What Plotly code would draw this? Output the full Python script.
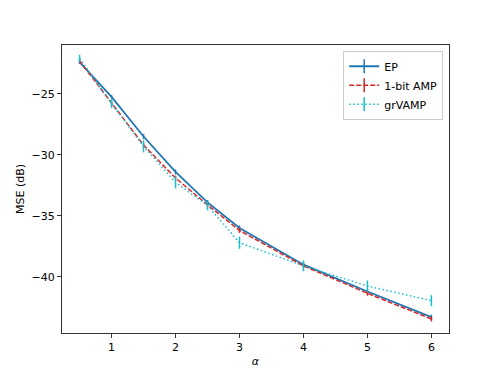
import plotly.graph_objects as go

alpha = [0.5, 1, 1.5, 2, 2.5, 3, 4, 5, 6]

ep_mse = [-22.4, -25.25, -28.5, -31.4, -33.9, -36.0, -39.0, -41.2, -43.3]
ep_err = [0.15, 0.15, 0.2, 0.2, 0.2, 0.2, 0.2, 0.2, 0.2]

amp_mse = [-22.3, -25.8, -29.2, -31.9, -34.1, -36.2, -39.1, -41.35, -43.45]
amp_err = [0.15, 0.2, 0.2, 0.2, 0.2, 0.2, 0.2, 0.2, 0.2]

vamp_mse = [-22.1, -25.8, -29.3, -32.25, -34.15, -37.2, -39.1, -40.75, -41.95]
vamp_err = [0.3, 0.35, 0.5, 0.5, 0.4, 0.5, 0.45, 0.45, 0.45]

names = ["EP", "1-bit AMP", "grVAMP"]
colors = ["#1f77b4", "#d62728", "#17becf"]
dashes = ["solid", "5px,2px", "1.5px,2.5px"]
widths = [1.8, 1.5, 1.5]

fig = go.Figure()
for y, e, name, c, d, w in zip([ep_mse, amp_mse, vamp_mse], [ep_err, amp_err, vamp_err],
                               names, colors, dashes, widths):
    fig.add_trace(go.Scatter(
        x=alpha, y=y, mode="lines", showlegend=False,
        line=dict(color=c, dash=d, width=w),
        error_y=dict(type="data", array=e, color=c, thickness=1.5, width=0),
    ))
    # legend entry with a vertical tick like an errorbar
    fig.add_trace(go.Scatter(
        x=[None], y=[None], mode="lines+markers", name=name,
        line=dict(color=c, dash=d, width=w),
        marker=dict(symbol="line-ns", size=10, line=dict(color=c, width=1.5)),
    ))

axis_style = dict(showline=True, linecolor="#333", linewidth=1, mirror=True,
                  ticks="outside", ticklen=4, tickcolor="#333", showgrid=False,
                  zeroline=False, automargin=False,
                  tickfont=dict(size=11, color="black"))

fig.update_xaxes(range=[0.225, 6.275], tickvals=[1, 2, 3, 4, 5, 6],
                 title=dict(text="<i>α</i>", standoff=4, font=dict(size=11)), **axis_style)
fig.update_yaxes(range=[-44.6, -21.0], tickvals=[-25, -30, -35, -40],
                 title=dict(text="MSE (dB)", standoff=4, font=dict(size=11)), **axis_style)

# the page body adds an 8px offset, margins compensate for it
fig.update_layout(
    width=498, height=374,
    margin=dict(l=54, r=57, t=37, b=49),
    plot_bgcolor="white", paper_bgcolor="white",
    font=dict(family="DejaVu Sans", size=11, color="black"),
    legend=dict(x=0.985, y=0.98, xanchor="right", yanchor="top",
                bordercolor="#ccc", borderwidth=1, bgcolor="rgba(255,255,255,0.8)",
                font=dict(size=11), tracegroupgap=0, itemwidth=30),
)

fig.write_html("out.html")
